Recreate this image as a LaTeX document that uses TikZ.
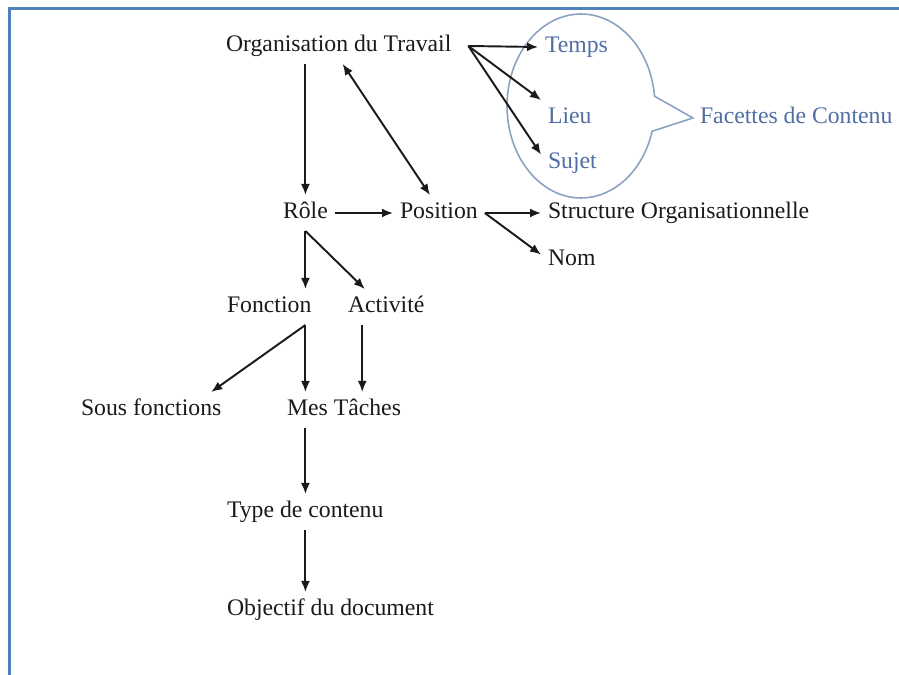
\documentclass[tikz,border=0pt]{standalone}
\usepackage{fontspec}
\setmainfont{Liberation Serif}
\usetikzlibrary{calc,positioning,arrows.meta,shapes.callouts}
\definecolor{frameblue}{HTML}{4F81BD}
\definecolor{facetblue}{HTML}{4F6FA3}
\definecolor{bubbleline}{HTML}{8AA2C0}
\definecolor{inkblack}{HTML}{1A1A1A}
\tikzset{
  lbl/.style={anchor=west, inner sep=1pt, outer sep=3pt, text height=9.5pt,
    text depth=3pt, text=inkblack, font=\fontsize{13.5}{16}\selectfont},
  facet/.style={lbl, text=facetblue},
  arrow/.style={line width=1.1pt, -{Latex[length=2.2mm,width=1.8mm]}, draw=inkblack},
  frame/.style={line width=0.06cm, draw=frameblue}
}

\begin{document}
\begin{tikzpicture}[x=0.02cm,y=-0.02cm]

  \useasboundingbox (0,0) rectangle (899,675);
  \draw[frame] (9.5,675) -- (9.5,8.5) -- (899,8.5);

  \node (org) [lbl] at (219,46) {Organisation du Travail};

  % facettes de contenu
  \node (temps) [facet] at (538,47) {Temps};
  \node (lieu) [facet] at (541,118) {Lieu};
  \node (sujet) [facet] at (541,163) {Sujet};
  \node (facettes) [facet] at (693,118) {Facettes de Contenu};
  \node (bubble) [ellipse callout, draw=bubbleline, line width=0.9pt,
    minimum width=2.96cm, minimum height=3.68cm, inner sep=0pt,
    callout pointer arc=22, callout absolute pointer={(facettes.west)}] at (581,106) {};

  \node (role) [lbl] at (276,213) {Rôle};
  \node (position) [lbl] at (393,213) {Position};
  \node (structure) [lbl] at (541,213) {Structure Organisationnelle};
  \node (nom) [lbl] at (541,260) {Nom};

  \node (fonction) [lbl] at (220,307) {Fonction};
  \node (activite) [lbl] at (341,307) {Activité};
  \node (sousfonctions) [lbl] at (74,410) {Sous fonctions};
  \node (taches) [lbl] at (280,410) {Mes Tâches};
  \node (type) [lbl] at (220,512) {Type de contenu};
  \node (objectif) [lbl] at (220,610) {Objectif du document};

  \coordinate (fan) at ($(org.east)+(10,0)$);
  \draw[arrow] (fan) -- (temps.west);
  \draw[arrow] (fan) -- (lieu.north west);
  \draw[arrow] (fan) -- (sujet.165);

  \draw[arrow] (org.south -| role) -- (role.north);
  \draw[arrow,{Latex[length=2.2mm,width=1.8mm]}-{Latex[length=2.2mm,width=1.8mm]}] ($(org.south)+(4,0)$) -- ($(position.north)+(-9,0)$);
  \draw[arrow] (role) -- (position);
  \draw[arrow] (position) -- (structure);
  \draw[arrow] (position.east) -- (nom.170);

  \draw[arrow] (role.south) -- (role.south |- fonction.north);
  \draw[arrow] (role.south) -- (activite.140);

  \coordinate (fsplit) at (fonction.south -| role);
  \draw[arrow] (fsplit) -- ($(sousfonctions.north)+(60,0)$);
  \draw[arrow] (fsplit) -- (fsplit |- taches.north);
  \draw[arrow] ($(activite.south)+(-24,0)$) -- ($(activite.south |- taches.north)+(-24,0)$);

  \draw[arrow] (taches.south -| role) -- (type.north -| role);
  \draw[arrow] (type.south -| role) -- (objectif.north -| role);

\end{tikzpicture}
\end{document}
